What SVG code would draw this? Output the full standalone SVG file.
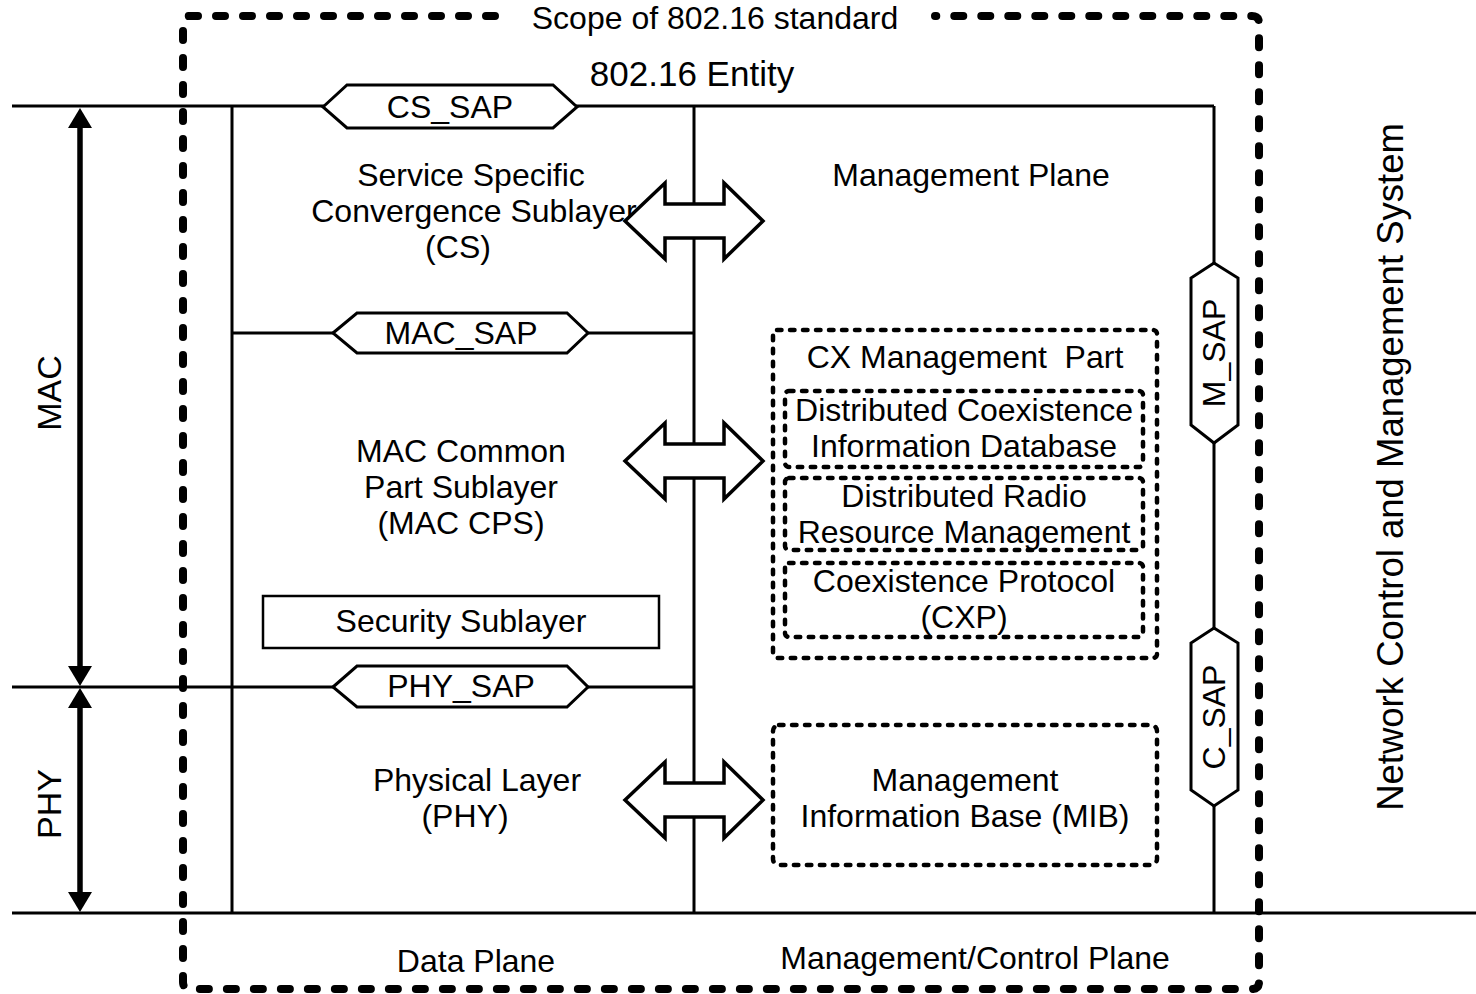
<svg xmlns="http://www.w3.org/2000/svg" width="1476" height="994" viewBox="0 0 1476 994">
<defs>
<style>
text{font-family:"Liberation Sans",Arial,sans-serif;fill:#000;}
.t{font-size:32px;text-anchor:middle;}
.ln{stroke:#000;stroke-width:3;fill:none;stroke-linecap:butt;}
.sap{stroke:#000;stroke-width:3;fill:#fff;stroke-linejoin:miter;}
.blk{stroke:#000;stroke-width:3.5;fill:#fff;stroke-linejoin:miter;}
.dash{stroke:#000;stroke-width:4.5;fill:none;stroke-dasharray:4.5 8.5;stroke-linecap:round;stroke-linejoin:round;}
.scope{stroke:#000;stroke-width:8;fill:none;stroke-dasharray:9 18;stroke-linecap:round;stroke-linejoin:round;}
.big{stroke:#000;stroke-width:5.5;fill:none;}
</style>
</defs>
<rect width="1476" height="994" fill="#fff"/>

<g id="scope">
<path class="scope" d="M495,16 L190,16 Q183,16 183,23 L183,982 Q183,989 190,989 L1252,989 Q1259,989 1259,982 L1259,23 Q1259,16 1252,16 L935,16"/>
<text class="t" x="715" y="29">Scope of 802.16 standard</text>
</g>

<g id="connectors">
<line class="ln" x1="12" y1="106" x2="1214" y2="106"/>
<line class="ln" x1="12" y1="913" x2="1476" y2="913"/>
<line class="ln" x1="12" y1="687" x2="694" y2="687"/>
<line class="ln" x1="232" y1="333" x2="694" y2="333"/>
<line class="ln" x1="232" y1="106" x2="232" y2="913"/>
<line class="ln" x1="694" y1="106" x2="694" y2="913"/>
<line class="ln" x1="1214" y1="106" x2="1214" y2="913"/>
<line class="big" x1="80" y1="124" x2="80" y2="670"/>
<polygon points="80,108 68,128 92,128"/>
<polygon points="80,686 68,666 92,666"/>
<line class="big" x1="80" y1="704" x2="80" y2="896"/>
<polygon points="80,688 68,708 92,708"/>
<polygon points="80,912 68,892 92,892"/>
</g>

<g id="entity-label">
<text x="692" y="86" style="font-size:35px;text-anchor:middle">802.16 Entity</text>
</g>

<g id="cs-sap">
<polygon class="sap" points="323,107 347,85 553,85 577,107 553,128 347,128"/>
<text class="t" x="450" y="118">CS_SAP</text>
</g>

<g id="mac-sap">
<polygon class="sap" points="333,333 357,313 567,313 588,333 567,353 357,353"/>
<text class="t" x="461" y="344">MAC_SAP</text>
</g>

<g id="phy-sap">
<polygon class="sap" points="333,687 357,666 567,666 588,687 567,707 357,707"/>
<text class="t" x="461" y="697">PHY_SAP</text>
</g>

<g id="m-sap">
<polygon class="sap" points="1214,263 1238,278 1238,425 1214,443 1191,425 1191,278"/>
<text class="t" transform="translate(1225,353) rotate(-90)" x="0" y="0">M_SAP</text>
</g>

<g id="c-sap">
<polygon class="sap" points="1214,628 1238,643 1238,790 1214,806 1191,790 1191,643"/>
<text class="t" transform="translate(1225,717) rotate(-90)" x="0" y="0">C_SAP</text>
</g>

<g id="cs-sublayer">
<text class="t" x="471" y="186">Service Specific</text>
<text class="t" x="474" y="222">Convergence Sublayer</text>
<text class="t" x="458" y="258">(CS)</text>
</g>

<g id="management-plane">
<text class="t" x="971" y="186">Management Plane</text>
</g>

<g id="mac-cps">
<text class="t" x="461" y="462">MAC Common</text>
<text class="t" x="461" y="498">Part Sublayer</text>
<text class="t" x="461" y="534">(MAC CPS)</text>
</g>

<g id="security-sublayer">
<rect x="263" y="596" width="396" height="52" fill="#fff" stroke="#000" stroke-width="2.5"/>
<text class="t" x="461" y="632">Security Sublayer</text>
</g>

<g id="phy-layer">
<text class="t" x="477" y="791">Physical Layer</text>
<text class="t" x="465" y="827">(PHY)</text>
</g>

<g id="cx-management">
<rect class="dash" x="773" y="330" width="384" height="328" rx="4"/>
<text class="t" x="965" y="368" xml:space="preserve">CX Management  Part</text>
</g>

<g id="dcid">
<rect class="dash" x="785" y="391" width="358" height="76" rx="4"/>
<text class="t" x="964" y="421">Distributed Coexistence</text>
<text class="t" x="964" y="457">Information Database</text>
</g>

<g id="drrm">
<rect class="dash" x="785" y="478" width="358" height="72" rx="4"/>
<text class="t" x="964" y="507">Distributed Radio</text>
<text class="t" x="964" y="543">Resource Management</text>
</g>

<g id="cxp">
<rect class="dash" x="785" y="563" width="358" height="74" rx="4"/>
<text class="t" x="964" y="592">Coexistence Protocol</text>
<text class="t" x="964" y="628">(CXP)</text>
</g>

<g id="mib">
<rect class="dash" x="773" y="725" width="384" height="140" rx="6"/>
<text class="t" x="965" y="791">Management</text>
<text class="t" x="965" y="827">Information Base (MIB)</text>
</g>

<g id="block-arrows">
<path class="blk" d="M625,221 L665,183 L665,204 L724,204 L724,183 L763,221 L724,259 L724,238 L665,238 L665,259 Z"/>
<path class="blk" d="M625,461 L665,423 L665,444 L724,444 L724,423 L763,461 L724,499 L724,478 L665,478 L665,499 Z"/>
<path class="blk" d="M625,800 L665,762 L665,783 L724,783 L724,762 L763,800 L724,838 L724,817 L665,817 L665,838 Z"/>
</g>

<g id="mac-label">
<text transform="translate(61,393) rotate(-90)" style="font-size:34px;text-anchor:middle">MAC</text>
</g>
<g id="phy-label">
<text transform="translate(61,804) rotate(-90)" style="font-size:34px;text-anchor:middle">PHY</text>
</g>

<g id="ncms">
<text transform="translate(1403,467) rotate(-90)" style="font-size:36.5px;text-anchor:middle">Network Control and Management System</text>
</g>

<g id="planes">
<text class="t" x="476" y="972">Data Plane</text>
<text class="t" x="975" y="969">Management/Control Plane</text>
</g>
</svg>
